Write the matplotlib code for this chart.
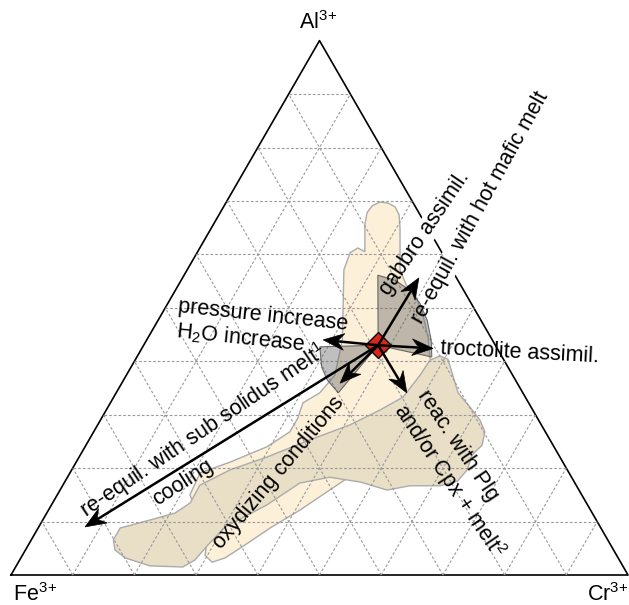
import numpy as np
import matplotlib.pyplot as plt
from matplotlib.patches import Polygon

plt.rcParams['font.family'] = ['Liberation Sans', 'DejaVu Sans']
plt.rcParams['mathtext.fontset'] = 'custom'
plt.rcParams['mathtext.rm'] = 'Liberation Sans'
plt.rcParams['mathtext.it'] = 'Liberation Sans:italic'

# ---- spinel fields, (Cr, Al) in % of trivalent cations (Fe = 100 - Cr - Al) ----
# light field: fingers at high Al + oxidized trend
cream_cr = [28.1, 25.4, 24.8, 25.6, 27.1, 24.6, 23.8, 24.0, 24.9, 26.3, 27.8, 29.2,
            30.6, 34.5, 36.9, 39.3, 42.4, 45.4, 47.6, 51.3, 51.8, 49.7, 46.7, 43.7,
            40.8, 37.6, 35.1, 33.1, 31.4, 29.6, 28.5, 21.5, 21.1, 24.9, 29.5, 31.8,
            31.8, 31.2, 33.0, 33.8, 31.7]
cream_al = [51.5, 57.1, 60.3, 61.2, 60.5, 65.5, 67.8, 69.1, 69.8, 69.6, 68.9, 67.4,
            64.9, 57.1, 54.3, 52.4, 48.7, 44.4, 40.6, 36.5, 29.0, 23.4, 19.7, 15.9,
            12.2, 8.8, 5.6, 3.2, 2.4, 3.7, 6.6, 15.0, 19.1, 21.1, 24.0, 26.8,
            29.4, 32.2, 34.1, 37.4, 44.0]

# darker field: Cr-rich lobe + low-Al band
tan_cr = [13.3, 13.3, 17.4, 20.8, 22.3, 22.2, 25.7, 30.5, 35.8, 40.9, 44.4, 46.9,
          47.6, 47.8, 49.0, 50.6, 52.9, 55.4, 58.7, 61.5, 63.4, 64.2, 63.5, 64.1,
          63.6, 61.2, 56.3, 53.0, 47.9, 42.5, 38.2, 34.9, 30.2, 29.1, 28.4, 27.1,
          21.7, 16.9, 14.5]
tan_al = [6.6, 8.8, 10.3, 11.6, 13.5, 16.8, 19.7, 22.1, 25.3, 28.1, 30.9, 33.3,
          37.4, 40.2, 41.0, 40.4, 37.4, 34.1, 31.4, 29.0, 26.8, 24.3, 22.5, 19.7,
          17.6, 16.7, 16.7, 15.9, 17.4, 18.3, 17.2, 13.1, 9.0, 5.6, 2.8, 1.5,
          1.7, 3.2, 4.7]

# starting composition
start_cr, start_al = 38.0, 43.0

# grey uncertainty sectors around the start point
sect_up_cr = [38.0, 31.4, 34.6, 38.0, 40.8, 43.6, 46.1, 47.8]
sect_up_al = [43.0, 56.1, 55.2, 53.3, 50.9, 47.7, 44.0, 40.8]
sect_lo_cr = [38.0, 28.7, 30.9, 33.0, 36.0]
sect_lo_al = [43.0, 42.7, 38.9, 36.5, 34.1]

# process vectors: gabbro, troctolite, pressure/H2O, oxidation, Plg/Cpx reaction, cooling
vec_cr = [38.3, 47.2, 28.6, 35.4, 47.1, 7.5]
vec_al = [55.6, 42.4, 44.0, 35.9, 34.1, 9.0]

SQ = np.sqrt(3) / 2


def tern(cr, al):
    cr = np.asarray(cr, float)
    al = np.asarray(al, float)
    return cr + al / 2.0, al * SQ


def arrow(ax, x0, y0, x1, y1, lw=1.8, L=3.4, W=1.35, notch=1.1):
    d = np.array([x1 - x0, y1 - y0])
    d = d / np.hypot(d[0], d[1])
    n = np.array([-d[1], d[0]])
    tip = np.array([x1, y1])
    back = tip - d * L
    inner = tip - d * (L - notch)
    ax.plot([x0, inner[0]], [y0, inner[1]], color='k', lw=lw,
            solid_capstyle='butt', zorder=6)
    ax.add_patch(Polygon([tip, back + n * W, inner, back - n * W], closed=True,
                         fc='k', ec='k', lw=0.5, zorder=6))


fig = plt.figure(figsize=(6.29, 6.05), dpi=100)
ax = fig.add_axes([0, 0, 1, 1])
ax.set_xlim(-1.783, 100.16)
ax.set_ylim(-4.862, 93.19)
ax.axis('off')

# outer triangle
tx, ty = tern([0, 100, 0, 0], [0, 0, 100, 0])
ax.plot(tx, ty, color='k', lw=1.2, zorder=0.5)

# 10 % grid
for t in range(10, 100, 10):
    for cr, al in [([0, 100 - t], [t, t]), ([t, t], [0, 100 - t]),
                   ([100 - t, 0], [0, 100 - t])]:
        gx, gy = tern(cr, al)
        ax.plot(gx, gy, color='#999999', lw=0.8, dashes=(2.4, 1.8), zorder=2)

# fields
cx, cy = tern(cream_cr, cream_al)
ax.add_patch(Polygon(np.c_[cx, cy], closed=True, fc='#fdf0d9', ec='#ababab',
                     lw=1.0, zorder=1))
tnx, tny = tern(tan_cr, tan_al)
ax.add_patch(Polygon(np.c_[tnx, tny], closed=True, fc='#e9dec6', ec='#ababab',
                     lw=1.0, zorder=1.1))

# sectors
for scr, sal in [(sect_up_cr, sect_up_al), (sect_lo_cr, sect_lo_al)]:
    sx, sy = tern(scr, sal)
    ax.add_patch(Polygon(np.c_[sx, sy], closed=True, fc=(0.38, 0.38, 0.38, 0.4),
                         ec=(0.3, 0.3, 0.3, 0.8), lw=0.8, zorder=3))

# start point
x0, y0 = tern(start_cr, start_al)
ax.plot([x0], [y0], marker='D', ms=13, mfc='#d8261c', mec='k', mew=1.0, zorder=5)

vx, vy = tern(vec_cr, vec_al)
for x1, y1 in zip(vx, vy):
    arrow(ax, float(x0), float(y0), x1, y1)

fs = 15.5
# corner labels
ax.text(49.8, 89.6, r'Al$^{3\!+}$', fontsize=fs, ha='center', va='center')
ax.text(3.9, -3.1, r'Fe$^{3\!+}$', fontsize=fs, ha='center', va='center')
ax.text(96.8, -3.1, r'Cr$^{3\!+}$', fontsize=fs, ha='center', va='center')

labels = [
    ('gabbro assimil.', 67.1, 55.4, 56, True),
    ('re-equil. with hot mafic melt', 76.0, 59.5, 61, True),
    ('pressure increase', 40.8, 42.0, -6, False),
    ('H$_2$O increase', 37.3, 38.4, -6, False),
    ('troctolite assimil.', 82.4, 36.0, -3, False),
    ('re-equil. with sub solidus melt$^1$', 31.1, 23.3, 34, False),
    ('cooling', 27.9, 14.9, 33, False),
    ('oxydizing conditions', 43.4, 16.5, 50, False),
    ('reac. with Plg', 72.4, 20.9, -56, False),
    ('and/or Cpx + melt$^2$', 71.0, 15.2, -56, False),
]
for s, x, y, rot, boxed in labels:
    if boxed:
        # white box knocks out the triangle edge under the label
        ax.text(x, y, s, fontsize=fs, rotation=rot, rotation_mode='anchor',
                ha='center', va='center', color='w', zorder=0.8,
                bbox=dict(fc='w', ec='none', pad=0.5))
    ax.text(x, y, s, fontsize=fs, rotation=rot, rotation_mode='anchor',
            ha='center', va='center', zorder=7)

fig.savefig('out.png', dpi=100)
